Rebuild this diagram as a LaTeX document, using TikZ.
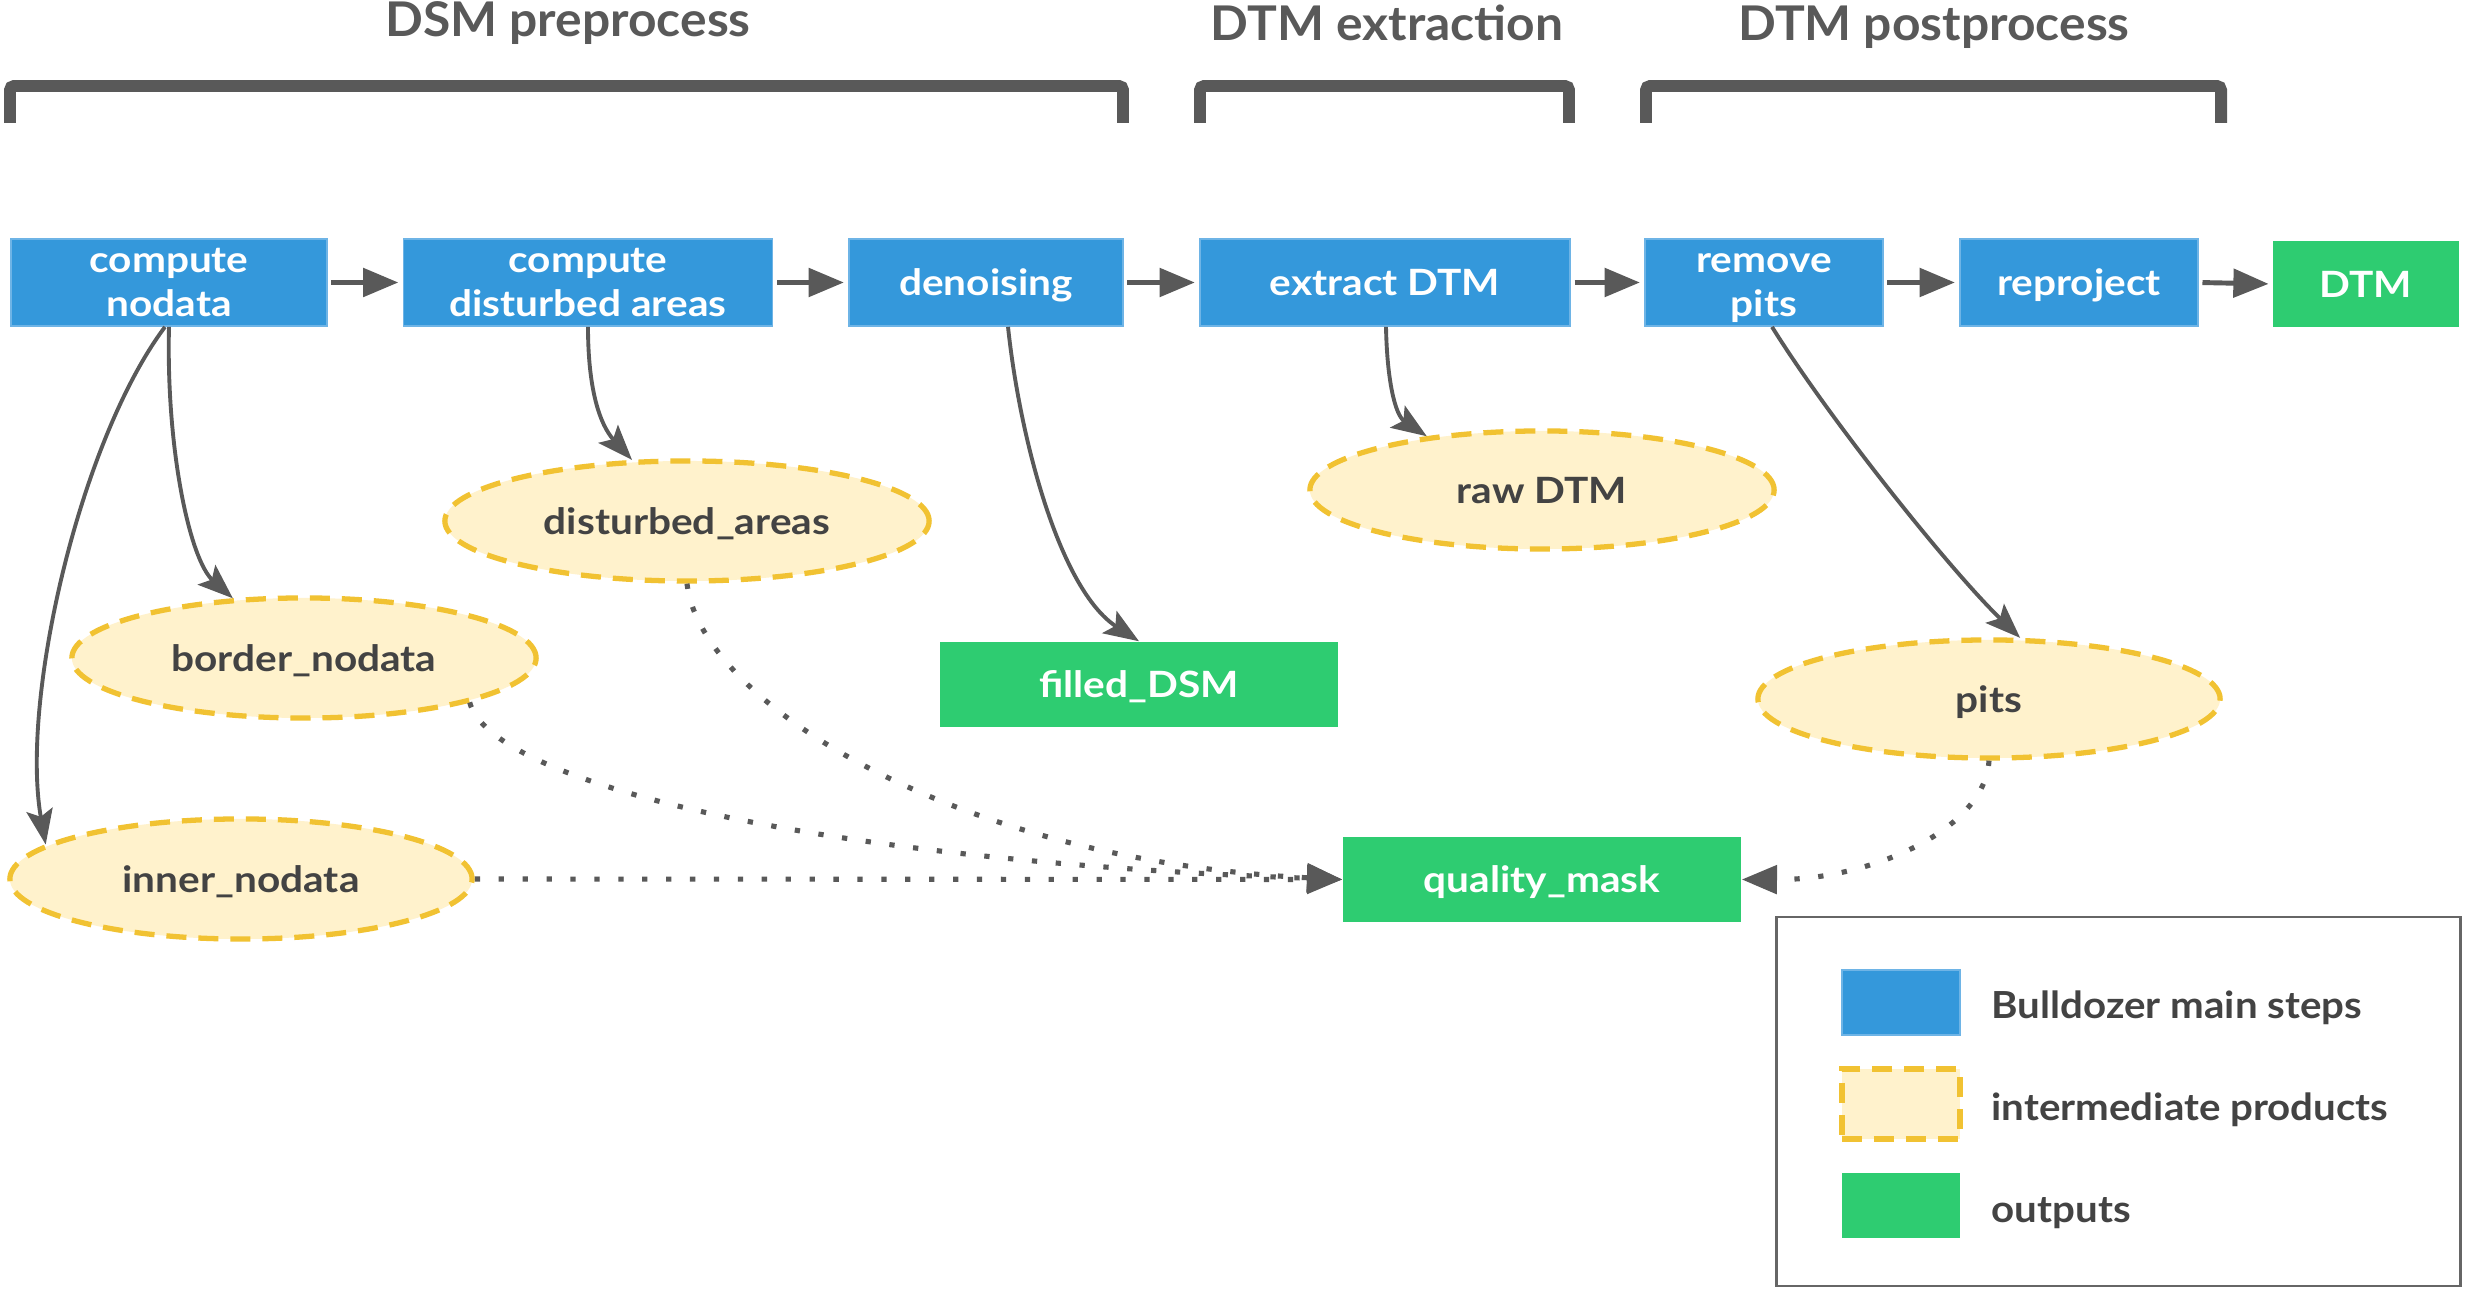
\documentclass[tikz,border=0pt]{standalone}
\usepackage{fontspec}
\setmainfont{Lato}
\newfontfamily\boxff{Lato}[FakeStretch=1.12]
\newfontfamily\legff{Lato}[FakeStretch=1.08]
\newfontfamily\titff{Lato}[FakeStretch=1.04]
\usetikzlibrary{arrows.meta,shapes.geometric}
\definecolor{bblue}{RGB}{52,152,219}
\definecolor{bbline}{RGB}{110,180,230}
\definecolor{egreen}{RGB}{46,204,113}
\definecolor{yfill}{RGB}{255,242,204}
\definecolor{yline}{RGB}{241,194,50}
\definecolor{agray}{RGB}{89,89,89}
\definecolor{dtext}{RGB}{67,67,67}
\definecolor{lgray}{RGB}{102,102,102}
\begin{document}
\begin{tikzpicture}[x=0.01cm,y=-0.01cm,
  boxfont/.style={font=\boxff\bfseries\fontsize{10.3}{12.5}\selectfont},
  sline/.style={text height=0.75em, text depth=0pt},
  stepbox/.style={rectangle, fill=bblue, draw=bbline, line width=0.5pt, text=white, boxfont, align=center, inner sep=0pt, minimum height=0.87cm},
  outbox/.style={rectangle, fill=egreen, text=white, boxfont, align=center, inner sep=0pt, minimum height=0.86cm, sline},
  prod/.style={ellipse, fill=yfill, draw=yline, line width=1.5pt, dash pattern=on 5.7pt off 3.4pt, text=dtext, boxfont, inner sep=0pt, sline},
  harrow/.style={draw=agray, line width=1.4pt, shorten <=1pt, shorten >=1.2pt, -{Triangle[length=10pt,width=8pt]}},
  carrow/.style={draw=agray, line width=1.1pt, -{Stealth[length=10pt,width=7.5pt,inset=2pt]}},
  darrow/.style={draw=agray, line width=1.45pt, dash pattern=on 1.5pt off 5.3pt, -{Triangle[length=10pt,width=8pt]}},
  bracket/.style={draw=agray, line width=3.4pt, rounded corners=1.2pt},
  titletext/.style={text=agray, font=\titff\bfseries\fontsize{13.6}{15}\selectfont, anchor=base},
  legtext/.style={text=dtext, font=\legff\bfseries\fontsize{10.6}{12}\selectfont, anchor=base west, inner sep=0pt},
  legframe/.style={draw=lgray, line width=0.85pt}
]
\useasboundingbox[fill=white] (0,0) rectangle (2466,1295);

% titles and brackets
\node[titletext] (t1) at (568,37) {DSM preprocess};
\node[titletext] (t2) at (1387,41) {DTM extraction};
\node[titletext] (t3) at (1934,41) {DTM postprocess};
\draw[bracket] (10,123) -- (10,86) -- (1123,86) -- (1123,123);
\draw[bracket] (1200,123) -- (1200,86) -- (1569,86) -- (1569,123);
\draw[bracket] (1646,123) -- (1646,86) -- (2221,86) -- (2221,123);

% main steps
\node[stepbox, minimum width=3.16cm] (cn) at (169,282.5) {compute\\nodata};
\node[stepbox, minimum width=3.69cm] (cd) at (588,282.5) {compute\\disturbed areas};
\node[stepbox, sline, minimum width=2.74cm] (dn) at (986,282.5) {denoising};
\node[stepbox, sline, minimum width=3.70cm] (ex) at (1385,282.5) {extract DTM};
\node[stepbox, minimum width=2.38cm] (rp) at (1764,282.5) {\vphantom{t}remove\\\smash{pits}};
\node[stepbox, sline, minimum width=2.38cm] (rj) at (2079,282.5) {reproject};
\node[outbox, minimum width=1.85cm] (dtm) at (2366,284) {DTM};

% products
\node[prod, minimum width=4.64cm, minimum height=1.20cm] (bn) at (304,658) {border\_nodata};
\node[prod, minimum width=4.62cm, minimum height=1.20cm] (in) at (241,879) {inner\_nodata};
\node[prod, minimum width=4.84cm, minimum height=1.20cm] (da) at (687,521) {disturbed\_areas};
\node[prod, minimum width=4.64cm, minimum height=1.18cm] (rd) at (1542,490) {raw DTM};
\node[prod, minimum width=4.62cm, minimum height=1.18cm] (pt) at (1989,699) {pits};

% outputs
\node[outbox, minimum width=3.98cm, minimum height=0.85cm] (fd) at (1139,684.5) {filled\_DSM};
\node[outbox, minimum width=3.98cm, minimum height=0.85cm] (qm) at (1542,879.5) {quality\_mask};

% main chain
\draw[harrow] (cn.east) -- (cd.west);
\draw[harrow] (cd.east) -- (dn.west);
\draw[harrow] (dn.east) -- (ex.west);
\draw[harrow] (ex.east) -- (rp.west);
\draw[harrow] (rp.east) -- (rj.west);
\draw[harrow] (rj.east) -- (dtm.west);

% products arrows
\draw[carrow] (cn.south) .. controls (166,450) and (190,560) .. (bn.140);
\draw[carrow] ([xshift=-0.04cm]cn.south) .. controls (80,440) and (20,700) .. (in.170);
\draw[carrow] (cd.south) .. controls (588,390) and (600,425) .. (da.132);
\draw[carrow] ([xshift=0.22cm]dn.south) .. controls (1020,440) and (1060,590) .. (fd.north);
\draw[carrow] ([xshift=0.01cm]ex.south) .. controls (1387,380) and (1395,415) .. (rd.155);
\draw[carrow] ([xshift=0.08cm]rp.south) .. controls (1830,420) and (1950,570) .. (pt.63);

% quality mask inputs
\draw[darrow] (in.east) -- (qm.west);
\draw[darrow] (bn.-15) .. controls (490,780) and (800,860) .. (qm.west);
\draw[darrow] (da.south) .. controls (700,700) and (950,860) .. (qm.west);
\draw[darrow] (pt.south) .. controls (1985,830) and (1870,880) .. (qm.east);

% legend
\draw[legframe] (1776,917) rectangle (2460,1286);
\node[rectangle, fill=bblue, draw=bbline, line width=0.5pt, minimum width=1.18cm, minimum height=0.65cm, inner sep=0pt] (lb) at (1901,1002.5) {};
\node[rectangle, fill=yfill, draw=yline, line width=1.5pt, dash pattern=on 5.7pt off 3.4pt, minimum width=1.18cm, minimum height=0.70cm, inner sep=0pt] (ly) at (1901,1104) {};
\node[rectangle, fill=egreen, minimum width=1.18cm, minimum height=0.65cm, inner sep=0pt] (lg) at (1901,1205.5) {};
\node[legtext] (lbt) at (1991,1019) {Bulldozer main steps};
\node[legtext] (lyt) at (1991,1120) {intermediate products};
\node[legtext] (lgt) at (1991,1222) {outputs};
\end{tikzpicture}
\end{document}
